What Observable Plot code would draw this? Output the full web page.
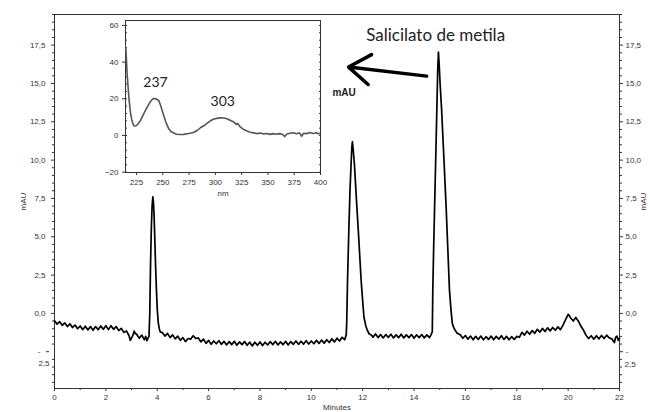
<!DOCTYPE html>
<html>
<head>
<meta charset="utf-8">
<script src="https://cdn.jsdelivr.net/npm/d3@7"></script>
<script src="https://cdn.jsdelivr.net/npm/@observablehq/plot@0.6"></script>
<style>
  html, body { margin: 0; padding: 0; background: white; }
  #wrap { position: relative; width: 650px; height: 412px; overflow: hidden; }
  #inset { position: absolute; left: 95px; top: 10px; }
</style>
</head>
<body>
<div id="wrap"><div id="main"></div><div id="inset"></div></div>
<script>
// ---------- Main chromatogram: [minutes, mAU] ----------
const chromatogram = [
  [0.0,-0.48],[0.1,-0.70],[0.2,-0.54],[0.3,-0.78],[0.4,-0.62],[0.5,-0.86],[0.6,-0.68],[0.7,-0.92],[0.8,-0.76],[0.9,-1.00],
  [1.0,-0.82],[1.1,-1.06],[1.2,-0.84],[1.3,-1.08],[1.4,-0.86],[1.5,-1.10],[1.6,-0.86],[1.7,-1.06],[1.8,-0.82],[1.9,-1.04],
  [2.0,-0.80],[2.1,-1.06],[2.2,-0.80],[2.3,-1.04],[2.4,-0.86],[2.5,-1.12],[2.6,-0.98],[2.7,-1.24],[2.8,-1.14],[2.9,-1.44],
  [2.95,-1.76],[3.0,-1.60],[3.05,-1.45],[3.1,-1.16],[3.15,-1.32],[3.2,-1.36],[3.3,-1.62],[3.4,-1.42],[3.5,-1.72],[3.55,-1.50],
  [3.6,-1.78],[3.65,-1.58],
  [3.68,-1.5],[3.71,0.0],[3.74,3.2],[3.77,5.5],[3.80,7.0],[3.83,7.6],[3.855,7.2],[3.88,6.3],[3.91,4.6],[3.94,2.9],
  [3.97,1.5],[4.00,0.3],[4.04,-0.6],[4.08,-1.0],[4.12,-1.22],
  [4.2,-1.24],[4.3,-1.48],[4.4,-1.30],[4.5,-1.58],[4.6,-1.40],[4.7,-1.66],[4.8,-1.48],[4.9,-1.76],[5.0,-1.58],[5.1,-1.84],
  [5.2,-1.64],[5.3,-1.68],[5.4,-1.46],[5.5,-1.64],[5.6,-1.60],[5.7,-1.86],[5.8,-1.68],[5.9,-1.96],[6.0,-1.76],[6.1,-2.02],
  [6.2,-1.80],[6.3,-1.98],[6.4,-1.78],[6.5,-2.02],[6.6,-1.82],[6.7,-2.06],[6.8,-1.84],[6.9,-2.04],[7.0,-1.82],[7.1,-2.08],
  [7.2,-1.86],[7.3,-2.04],[7.4,-1.84],[7.5,-2.08],[7.6,-1.88],[7.7,-2.12],[7.8,-1.88],[7.9,-2.08],[8.0,-1.86],[8.1,-2.10],
  [8.2,-1.88],[8.3,-2.06],[8.4,-1.84],[8.5,-2.04],[8.6,-1.82],[8.7,-2.06],[8.8,-1.86],[8.9,-2.04],[9.0,-1.82],[9.1,-2.06],
  [9.2,-1.84],[9.3,-2.02],[9.4,-1.80],[9.5,-2.02],[9.6,-1.82],[9.7,-2.00],[9.8,-1.78],[9.9,-2.00],[10.0,-1.80],[10.1,-1.98],
  [10.2,-1.76],[10.3,-1.96],[10.4,-1.74],[10.5,-1.94],[10.6,-1.72],[10.7,-1.90],[10.8,-1.66],[10.9,-1.86],[11.0,-1.62],[11.1,-1.80],
  [11.2,-1.56],[11.3,-1.72],
  [11.36,-1.40],[11.38,-0.5],[11.41,2.15],[11.46,5.4],[11.51,8.2],[11.55,9.8],[11.58,10.9],[11.60,11.2],[11.63,10.7],[11.68,9.7],
  [11.75,7.6],[11.83,5.4],[11.94,2.15],[12.00,0.8],[12.05,-0.25],[12.12,-0.8],[12.18,-1.1],[12.26,-1.35],[12.35,-1.42],
  [12.4,-1.56],[12.5,-1.34],[12.6,-1.58],[12.7,-1.38],[12.8,-1.60],[12.9,-1.38],[13.0,-1.56],[13.1,-1.36],[13.2,-1.60],[13.3,-1.40],
  [13.4,-1.58],[13.5,-1.36],[13.6,-1.60],[13.7,-1.40],[13.8,-1.58],[13.9,-1.38],[14.0,-1.62],[14.1,-1.40],[14.2,-1.58],[14.3,-1.38],
  [14.4,-1.60],[14.5,-1.40],[14.6,-1.58],[14.66,-1.40],
  [14.71,-1.2],[14.73,1.5],[14.76,4.0],[14.80,6.9],[14.85,10.5],[14.89,13.5],[14.92,15.8],[14.95,17.05],[14.98,16.2],[15.02,14.8],
  [15.07,13.4],[15.16,10.2],[15.25,6.9],[15.32,4.0],[15.38,1.5],[15.44,0.2],[15.49,-0.65],[15.55,-0.95],[15.60,-1.1],[15.68,-1.3],
  [15.8,-1.40],[15.9,-1.62],[16.0,-1.44],[16.1,-1.68],[16.2,-1.48],[16.3,-1.72],[16.4,-1.50],[16.5,-1.70],[16.6,-1.48],[16.7,-1.72],
  [16.8,-1.52],[16.9,-1.70],[17.0,-1.48],[17.1,-1.72],[17.2,-1.50],[17.3,-1.68],[17.4,-1.46],[17.5,-1.70],[17.6,-1.50],[17.7,-1.72],
  [17.8,-1.52],[17.9,-1.70],[18.0,-1.50],[18.1,-1.56],[18.2,-1.24],[18.3,-1.42],[18.4,-1.16],[18.5,-1.36],[18.6,-1.12],[18.7,-1.30],
  [18.8,-1.04],[18.9,-1.22],[19.0,-0.98],[19.1,-1.18],[19.2,-0.94],[19.3,-1.14],[19.4,-0.92],[19.5,-1.10],[19.6,-0.88],[19.7,-1.06],
  [19.8,-0.76],[19.9,-0.40],[20.0,-0.06],[20.05,-0.16],[20.1,-0.30],[20.2,-0.50],[20.3,-0.26],[20.35,-0.40],[20.4,-0.50],[20.5,-0.84],
  [20.6,-1.10],[20.7,-1.44],[20.8,-1.64],[20.9,-1.46],[21.0,-1.68],[21.1,-1.46],[21.2,-1.66],[21.3,-1.44],[21.4,-1.64],[21.5,-1.42],
  [21.6,-1.60],[21.7,-1.66],[21.8,-1.90],[21.85,-1.56],[21.9,-1.48],[21.95,-1.76],[22.0,-1.62]
];

// ---------- Inset UV spectrum: [nm, mAU] ----------
const spectrum = [
  [214.8,48],[216,34],[217,26],[218,19],[219.3,12],[220.5,8.5],[221.8,6],[223,5.2],[224.5,5.3],[226.5,6.3],
  [228.8,8.2],[231,10.8],[233,13.2],[235.1,15.4],[237.5,17.8],[239.5,19.4],[241.4,20.2],[243.5,20.0],[246.2,19.0],[248,16.2],
  [250.9,10.9],[253,7.0],[255.7,3.6],[258,2.0],[260.4,1.3],[263,0.7],[266.8,0.5],[270,0.6],[273.1,0.9],[276,1.2],
  [279,1.6],[282.7,2.7],[285.8,4.2],[288,5.0],[290,5.6],[292,6.6],[295.3,8.0],[298,8.8],[301,9.3],[304.8,9.6],
  [308,9.5],[311.2,9.1],[314,8.3],[317.5,7.3],[320,6.0],[321,6.6],[323.9,4.5],[327,3.2],[330.2,2.4],[333,1.8],
  [336.5,1.4],[340,1.0],[343,1.3],[346,0.8],[349,1.1],[352,0.6],[355,1.0],[358,0.7],[361,1.0],[364,0.5],
  [366,-0.6],[368,0.8],[371,1.2],[374,1.5],[377,0.9],[380,1.4],[382,-0.4],[384,1.2],[387,1.0],[390,1.6],
  [393,1.1],[396,1.5],[398,0.9],[400,1.2]
];

// ---------- Ticks & labels ----------
const xTicks = [0, 2, 4, 6, 8, 10, 12, 14, 16, 18, 20, 22];
const xMinor = [1, 3, 5, 7, 9, 11, 13, 15, 17, 19, 21];
const yTicks = [0, 2.5, 5, 7.5, 10, 12.5, 15, 17.5];
const yNeg = [-2.5];
const insetXTicks = [225, 250, 275, 300, 325, 350, 375, 400];
const insetYTicks = [-20, 0, 20, 40, 60];
const peakLabels = [{nm: 243, v: 28.9, text: "237"}, {nm: 307, v: 18.5, text: "303"}];
const compoundLabel = [{t: 14.84, v: 18.13, text: "Salicilato de metila"}];
const unitLabel = [{t: 10.82, v: 14.42, text: "mAU"}];
const arrowData = [{t1: 14.49, v1: 15.48, t2: 11.45, v2: 16.07}];

const comma = d => d3.format(".1f")(d).replace(".", ",");
const yMinor = d3.range(-4.5, 19.51, 0.5).filter(v => !yTicks.includes(v) && v !== -2.5);

const main = Plot.plot({
  width: 650, height: 412,
  marginTop: 14, marginBottom: 24, marginLeft: 54, marginRight: 31,
  x: {domain: [0, 22], label: null},
  y: {domain: [-4.9, 19.5], label: null},
  style: {fontFamily: "'Liberation Sans', Arial, sans-serif", fontSize: "8px", color: "#333", background: "white", overflow: "visible"},
  marks: [
    Plot.frame({stroke: "#333", strokeWidth: 1}),
    Plot.axisX(xTicks, {tickSize: 3, tickPadding: 3, tickFormat: d => String(d), label: "Minutes", labelAnchor: "center", labelArrow: "none", labelOffset: 21}),
    Plot.axisX(xMinor, {tickSize: 2, tickFormat: () => "", label: null}),
    Plot.axisY(yTicks, {anchor: "left", tickSize: 3, tickPadding: 6, tickFormat: comma, label: "mAU", labelAnchor: "center", labelArrow: "none", labelOffset: 34}),
    Plot.axisY(yMinor, {anchor: "left", tickSize: 2, tickFormat: () => "", label: null}),
    Plot.axisY(yNeg, {anchor: "left", tickSize: 3, tickPadding: 6, tickFormat: () => "-", dx: -5, label: null}),
    Plot.axisY(yNeg, {anchor: "left", tickSize: 0, tickPadding: 9, tickFormat: () => "2,5", dx: 4, dy: 12, label: null}),
    Plot.axisY(yTicks, {anchor: "right", tickSize: 3, tickPadding: 3, tickFormat: comma, label: "mAU", labelAnchor: "center", labelArrow: "none", labelOffset: 26}),
    Plot.axisY(yMinor, {anchor: "right", tickSize: 2, tickFormat: () => "", label: null}),
    Plot.axisY(yNeg, {anchor: "right", tickSize: 3, tickPadding: 3, tickFormat: () => "-", label: null}),
    Plot.axisY(yNeg, {anchor: "right", tickSize: 0, tickPadding: 5, tickFormat: () => "2,5", dy: 13, label: null}),
    Plot.line(chromatogram, {x: d => d[0], y: d => d[1], stroke: "#000", strokeWidth: 1.7, curve: "linear"}),
    Plot.text(compoundLabel, {x: "t", y: "v", text: "text", fontSize: 17, fontFamily: "Lato, 'Open Sans', sans-serif", fill: "#222"}),
    Plot.text(unitLabel, {x: "t", y: "v", text: "text", textAnchor: "start", fontSize: 10, fontWeight: "bold", fontFamily: "'Liberation Sans', Arial, sans-serif", fill: "#222"}),
    Plot.arrow(arrowData, {x1: "t1", y1: "v1", x2: "t2", y2: "v2", stroke: "#000", strokeWidth: 3.5, headLength: 14, headAngle: 70})
  ]
});
document.getElementById("main").append(main);

const inset = Plot.plot({
  width: 240, height: 190,
  marginTop: 10, marginBottom: 28, marginLeft: 30, marginRight: 15,
  x: {domain: [214.5, 400], label: null},
  y: {domain: [-20.2, 62.7], label: null},
  style: {fontFamily: "'Liberation Sans', Arial, sans-serif", fontSize: "8px", color: "#333", background: "transparent", overflow: "visible"},
  marks: [
    Plot.frame({stroke: "#333", strokeWidth: 1}),
    Plot.axisX(insetXTicks, {tickSize: 3, tickPadding: 4, label: "nm", labelAnchor: "center", labelArrow: "none", labelOffset: 23}),
    Plot.axisY(insetYTicks, {tickSize: 3, tickPadding: 4, label: null}),
    Plot.axisY(d3.range(-20, 61, 4), {anchor: "left", tickSize: -2, tickFormat: () => "", label: null}),
    Plot.axisY(d3.range(-20, 61, 4), {anchor: "right", tickSize: -2, tickFormat: () => "", label: null}),
    Plot.line(spectrum, {x: d => d[0], y: d => d[1], stroke: "#555", strokeWidth: 1.6, clip: true}),
    Plot.text(peakLabels, {x: "nm", y: "v", text: "text", fontSize: 14, fontFamily: "Lato, 'Open Sans', sans-serif", fill: "#222"})
  ]
});
document.getElementById("inset").append(inset);
</script>
</body>
</html>
